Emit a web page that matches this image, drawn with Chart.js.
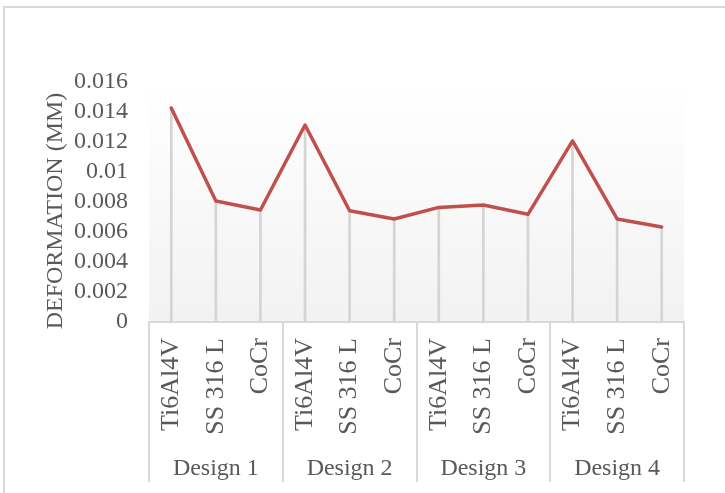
<!DOCTYPE html>
<html>
<head>
<meta charset="utf-8">
<title>Deformation by design and material</title>
<script src="https://cdn.jsdelivr.net/npm/chart.js@4.4.1/dist/chart.umd.min.js"></script>
<style>
  html, body { margin: 0; padding: 0; background: #fff; overflow: hidden; }
  #frame {
    position: absolute; left: 3px; top: 6px; width: 800px; height: 560px;
    border-top: 2px solid #d9d9d9; border-left: 2px solid #d9d9d9;
  }
  #wrap { position: absolute; left: 0; top: 0; width: 725px; height: 493px; }
</style>
</head>
<body>
<div id="frame"></div>
<div id="wrap"><canvas id="chart" width="725" height="493"></canvas></div>
<script>
// ============================================
// Data
// ============================================
const materials = [
  "Ti6Al4V", "SS 316 L", "CoCr",
  "Ti6Al4V", "SS 316 L", "CoCr",
  "Ti6Al4V", "SS 316 L", "CoCr",
  "Ti6Al4V", "SS 316 L", "CoCr",
];
const designs = ["Design 1", "Design 2", "Design 3", "Design 4"];
// deformation in mm, one value per material column
const deformation = [
  0.01427, 0.00807, 0.00747,
  0.01313, 0.00742, 0.00687,
  0.00764, 0.00780, 0.00718,
  0.01207, 0.00687, 0.00633,
];
const yMin = 0;
const yMax = 0.016;
const yStep = 0.002;

const GRID_GRAY = "#d9d9d9";
const TEXT_GRAY = "#595959";

Chart.defaults.font.family = "'Liberation Serif', 'Times New Roman', serif";
Chart.defaults.color = TEXT_GRAY;

// ============================================
// Plugins
// ============================================
// soft white -> light gray fill behind the plot
const plotBackground = {
  id: "plotBackground",
  beforeDraw(chart) {
    const { ctx, chartArea: a } = chart;
    const g = ctx.createLinearGradient(0, a.top, 0, a.bottom);
    g.addColorStop(0, "#ffffff");
    g.addColorStop(1, "#f2f2f2");
    ctx.save();
    ctx.fillStyle = g;
    ctx.fillRect(a.left, a.top, a.right - a.left, a.bottom - a.top);
    ctx.restore();
  },
};

// vertical dividers between the design groups on the category axis
const groupDividers = {
  id: "groupDividers",
  afterDraw(chart) {
    const { ctx } = chart;
    const x = chart.scales.x;
    const x2 = chart.scales.x2;
    const band = (x2.right - x2.left) / designs.length;
    ctx.save();
    ctx.strokeStyle = GRID_GRAY;
    ctx.lineWidth = 2;
    for (let i = 0; i <= designs.length; i++) {
      const px = Math.round(x2.getPixelForValue(Math.min(i, designs.length - 1)) +
        (i === designs.length ? band / 2 : -band / 2));
      ctx.beginPath();
      ctx.moveTo(px, x.top);
      ctx.lineTo(px, x2.bottom);
      ctx.stroke();
    }
    ctx.restore();
  },
};

// ============================================
// Chart
// ============================================
const ctx = document.getElementById("chart").getContext("2d");

new Chart(ctx, {
  type: "line",
  data: {
    labels: materials,
    datasets: [
      {
        label: "Deformation",
        data: deformation,
        borderColor: "#c0504d",
        borderWidth: 3.5,
        borderJoinStyle: "round",
        borderCapStyle: "round",
        pointRadius: 0,
        tension: 0,
        order: 1,
      },
      {
        // drop lines from each point to the axis
        type: "bar",
        label: "drop",
        data: deformation,
        backgroundColor: "#d4d4d4",
        barThickness: 2,
        order: 2,
      },
    ],
  },
  options: {
    responsive: false,
    animation: false,
    layout: { padding: { left: 38, right: 41, top: 82, bottom: 11 } },
    plugins: {
      legend: { display: false },
      tooltip: { enabled: false },
    },
    scales: {
      x: {
        offset: true,
        grid: { display: false },
        border: { display: true, color: GRID_GRAY, width: 2 },
        ticks: {
          autoSkip: false,
          minRotation: 90,
          maxRotation: 90,
          padding: 8,
          font: { size: 26 },
          color: TEXT_GRAY,
        },
        afterFit: (s) => { s.height = 120; },
      },
      x2: {
        type: "category",
        position: "bottom",
        labels: designs,
        offset: true,
        grid: { display: false },
        border: { display: false },
        ticks: { padding: 4, font: { size: 24 }, color: TEXT_GRAY },
        afterFit: (s) => { s.height = 40; },
      },
      y: {
        min: yMin,
        max: yMax,
        grid: { display: false, drawTicks: false },
        border: { display: false },
        ticks: {
          stepSize: yStep,
          autoSkip: false,
          padding: 21,
          font: { size: 24 },
          color: TEXT_GRAY,
          callback: (v) => String(Number(v.toFixed(3))),
        },
        title: {
          display: true,
          // trailing spaces nudge the centred title a little toward the origin
          text: "DEFORMATION (MM)   ",
          font: { size: 24 },
          color: TEXT_GRAY,
          padding: { top: 3, bottom: 4 },
        },
        afterFit: (s) => { s.width = 111; },
      },
    },
  },
  plugins: [plotBackground, groupDividers],
});
</script>
</body>
</html>
